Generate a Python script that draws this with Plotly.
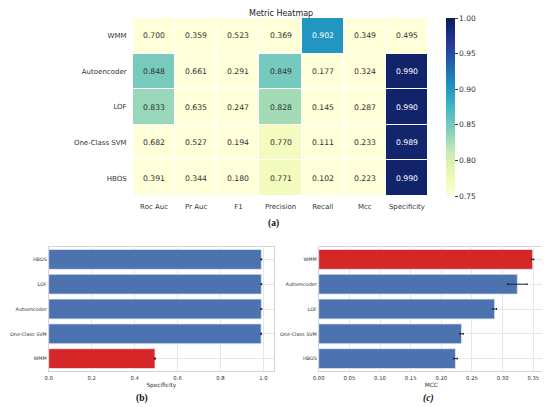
import plotly.graph_objects as go

# heatmap data (rows top -> bottom)
models = ["WMM", "Autoencoder", "LOF", "One-Class SVM", "HBOS"]
metrics = ["Roc Auc", "Pr Auc", "F1", "Precision", "Recall", "Mcc", "Specificity"]
wmm = [0.700, 0.359, 0.523, 0.369, 0.902, 0.349, 0.495]
autoencoder = [0.848, 0.661, 0.291, 0.849, 0.177, 0.324, 0.990]
lof = [0.833, 0.635, 0.247, 0.828, 0.145, 0.287, 0.990]
ocsvm = [0.682, 0.527, 0.194, 0.770, 0.111, 0.233, 0.989]
hbos = [0.391, 0.344, 0.180, 0.771, 0.102, 0.223, 0.990]
scores = [wmm, autoencoder, lof, ocsvm, hbos]

# panel (b): specificity, bottom -> top
spec_models = ["WMM", "One-Class SVM", "Autoencoder", "LOF", "HBOS"]
spec_vals = [0.495, 0.989, 0.990, 0.990, 0.990]
spec_err = [0.002, 0.002, 0.002, 0.002, 0.002]

# panel (c): MCC, bottom -> top
mcc_models = ["HBOS", "One-Class SVM", "LOF", "Autoencoder", "WMM"]
mcc_vals = [0.223, 0.233, 0.287, 0.324, 0.349]
mcc_err = [0.003, 0.003, 0.003, 0.016, 0.002]

# colorbar ticks
cbar_ticks = [0.75, 0.80, 0.85, 0.90, 0.95, 0.99999]
cbar_labels = ["0.75", "0.80", "0.85", "0.90", "0.95", "1.00"]

BLUE = "#4c72b0"
RED = "#d62728"
FONT = "DejaVu Sans"
W, H = 550, 407
OFF = 8  # the page body adds an 8px margin around the plot div


def px(x):
    return (x - OFF) / W


def py(y):
    return 1 - (y - OFF) / H


HM_TOP, HM_BOT = 18, 196

ylgnbu = [
    [0.0, "#ffffd9"], [0.125, "#edf8b1"], [0.25, "#c7e9b4"], [0.375, "#7fcdbb"],
    [0.5, "#41b6c4"], [0.625, "#1d91c0"], [0.75, "#225ea8"], [0.875, "#253494"],
    [1.0, "#081d58"],
]

fig = go.Figure()

fig.add_trace(go.Heatmap(
    z=scores, x=metrics, y=models,
    zmin=0.75, zmax=1.0, colorscale=ylgnbu,
    xgap=1, ygap=1, hoverinfo="skip",
    colorbar=dict(
        thickness=9, len=(HM_BOT - HM_TOP) / H, lenmode="fraction", xpad=0, ypad=0,
        x=px(446), xanchor="left", y=py((HM_TOP + HM_BOT) / 2), yanchor="middle",
        outlinewidth=0, tickvals=cbar_ticks, ticktext=cbar_labels,
        ticks="outside", ticklen=3, tickcolor="#444",
        tickfont=dict(size=7.5, color="#333", family=FONT),
    ),
    xaxis="x", yaxis="y",
))

annotations = []
for model, row in zip(models, scores):
    for metric, v in zip(metrics, row):
        annotations.append(dict(
            x=metric, y=model, xref="x", yref="y", text=f"{v:.3f}",
            showarrow=False,
            font=dict(size=7.7, family=FONT, color="white" if v > 0.88 else "#333"),
        ))

fig.add_trace(go.Bar(
    x=spec_vals, y=spec_models, orientation="h",
    marker=dict(color=[RED if m == "WMM" else BLUE for m in spec_models],
                line=dict(color="#dfe6f2", width=0.8)),
    error_x=dict(type="data", array=spec_err, color="#222", thickness=1, width=1),
    width=0.8, xaxis="x2", yaxis="y2", hoverinfo="skip",
))

fig.add_trace(go.Bar(
    x=mcc_vals, y=mcc_models, orientation="h",
    marker=dict(color=[RED if m == "WMM" else BLUE for m in mcc_models],
                line=dict(color="#dfe6f2", width=0.8)),
    error_x=dict(type="data", array=mcc_err, color="#222", thickness=1, width=1),
    width=0.8, xaxis="x3", yaxis="y3", hoverinfo="skip",
))

label = dict(xref="paper", yref="paper", showarrow=False, xanchor="center", yanchor="middle")
serif = dict(size=9.5, family="Liberation Serif", color="#111")
annotations += [
    dict(text="Metric Heatmap", x=px(280.5), y=py(13.2),
         font=dict(size=8, family=FONT, color="#222"), **label),
    dict(text="<b>(a)</b>", x=px(273), y=py(223), font=serif, **label),
    dict(text="<b>(b)</b>", x=px(142), y=py(398), font=serif, **label),
    dict(text="<b><i>(c)</i></b>", x=px(428), y=py(398), font=serif, **label),
]

panel_axis = dict(showgrid=True, gridcolor="#e6e6e6", gridwidth=0.8, zeroline=False,
                  showline=True, linecolor="#d4d4d4", linewidth=0.8, mirror=True,
                  ticks="outside", tickcolor="rgba(0,0,0,0)", automargin=False)
xtick = dict(tickfont=dict(size=5.3, family=FONT, color="#333"), ticklen=2)
ytick = dict(tickfont=dict(size=4.9, family=FONT, color="#333"), ticklen=0)
xtitle = dict(size=5.8, family=FONT, color="#333")

fig.update_layout(
    width=W, height=H,
    margin=dict(l=0, r=0, t=0, b=0, pad=0, autoexpand=False),
    paper_bgcolor="white", plot_bgcolor="white",
    showlegend=False,
    font=dict(family=FONT),
    annotations=annotations,
    xaxis=dict(domain=[px(133), px(428)], anchor="y", showgrid=False, zeroline=False,
               tickfont=dict(size=7, family=FONT, color="#333"), automargin=False,
               ticks="outside", ticklen=4, tickcolor="rgba(0,0,0,0)"),
    yaxis=dict(domain=[py(HM_BOT), py(HM_TOP)], anchor="x", showgrid=False,
               zeroline=False, autorange="reversed", automargin=False,
               tickfont=dict(size=7, family=FONT, color="#333"),
               ticks="outside", ticklen=4, tickcolor="rgba(0,0,0,0)"),
    xaxis2=dict(domain=[px(48.7), px(274)], anchor="y2", range=[0, 1.049],
                tickvals=[0, 0.2, 0.4, 0.6, 0.8, 1.0], tickformat=".1f",
                title=dict(text="Specificity", font=xtitle, standoff=2),
                **xtick, **panel_axis),
    yaxis2=dict(domain=[py(371), py(247)], anchor="x2", range=[-0.5, 4.5],
                **ytick, **panel_axis),
    xaxis3=dict(domain=[px(318.7), px(544)], anchor="y3", range=[0, 0.3675],
                tickvals=[0, 0.05, 0.1, 0.15, 0.2, 0.25, 0.3, 0.35], tickformat=".2f",
                title=dict(text="MCC", font=xtitle, standoff=2),
                **xtick, **panel_axis),
    yaxis3=dict(domain=[py(371), py(247)], anchor="x3", range=[-0.5, 4.5],
                **ytick, **panel_axis),
)

fig.write_html("out.html")
